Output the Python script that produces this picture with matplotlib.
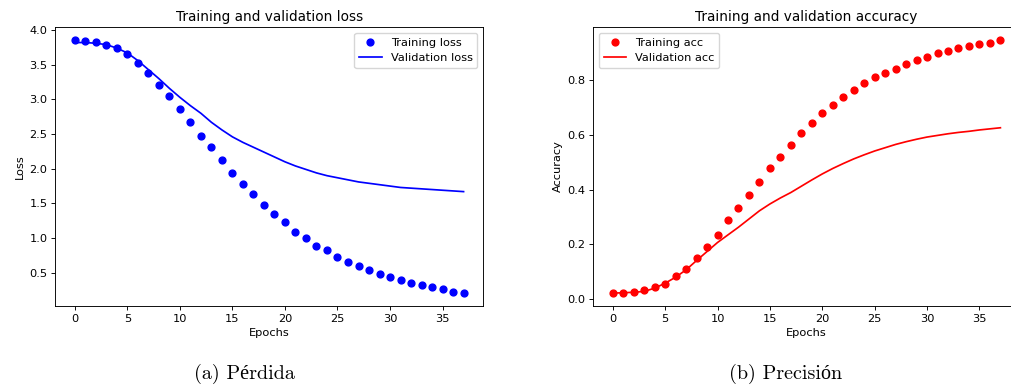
import numpy as np
import matplotlib
matplotlib.use('Agg')
import matplotlib.pyplot as plt

# %%
# values (38 epochs)
epochs = np.arange(38)

loss = [3.856, 3.837, 3.822, 3.78, 3.745, 3.654, 3.524, 3.375, 3.212, 3.043,
        2.86, 2.673, 2.476, 2.308, 2.125, 1.937, 1.774, 1.63, 1.48, 1.351,
        1.226, 1.091, 1.0, 0.889, 0.822, 0.721, 0.649, 0.591, 0.543, 0.481,
        0.433, 0.394, 0.356, 0.317, 0.288, 0.269, 0.226, 0.207]
val_loss = [3.82, 3.82, 3.81, 3.79, 3.74, 3.67, 3.56, 3.43, 3.30, 3.16,
            3.03, 2.91, 2.80, 2.67, 2.56, 2.46, 2.38, 2.31, 2.24, 2.17,
            2.10, 2.04, 1.99, 1.94, 1.90, 1.87, 1.84, 1.81, 1.79, 1.77,
            1.75, 1.73, 1.72, 1.71, 1.70, 1.69, 1.68, 1.67]

acc = [0.022, 0.022, 0.027, 0.032, 0.043, 0.055, 0.083, 0.111, 0.149, 0.189,
       0.236, 0.289, 0.335, 0.381, 0.428, 0.481, 0.521, 0.564, 0.607, 0.643,
       0.682, 0.709, 0.741, 0.765, 0.789, 0.811, 0.829, 0.843, 0.862, 0.876,
       0.887, 0.901, 0.909, 0.918, 0.927, 0.933, 0.938, 0.948]
val_acc = [0.022, 0.023, 0.025, 0.028, 0.040, 0.058, 0.080, 0.107, 0.141, 0.174,
           0.207, 0.235, 0.263, 0.293, 0.323, 0.348, 0.370, 0.390, 0.413, 0.436,
           0.458, 0.478, 0.496, 0.513, 0.528, 0.542, 0.554, 0.566, 0.576, 0.585,
           0.593, 0.599, 0.605, 0.610, 0.614, 0.619, 0.623, 0.627]

captions = ['(a) Pérdida', '(b) Precisión']

# %%
s = 0.82  # the notebook figure was shrunk into the document
plt.rcParams.update({'font.size': 10*s, 'axes.titlesize': 12*s,
                     'axes.linewidth': 0.8*s, 'xtick.major.width': 0.8*s,
                     'ytick.major.width': 0.8*s, 'xtick.major.size': 3.5*s,
                     'ytick.major.size': 3.5*s, 'lines.linewidth': 1.5*s,
                     'lines.markersize': 6*s, 'axes.titlepad': 6*s,
                     'xtick.major.pad': 3.5*s, 'ytick.major.pad': 3.5*s,
                     'axes.labelpad': 4*s, 'legend.fontsize': 10*s})

fig = plt.figure(figsize=(10.12, 3.86), dpi=100)
ax1 = fig.add_axes([0.0547, 0.208, 0.4226, 0.721])
ax2 = fig.add_axes([0.5863, 0.208, 0.4214, 0.721])

ax1.plot(epochs, loss, 'bo', label='Training loss')
ax1.plot(epochs, val_loss, 'b', label='Validation loss')
ax1.set(title='Training and validation loss', xlabel='Epochs', ylabel='Loss')
ax1.legend()

ax2.plot(epochs, acc, 'ro', label='Training acc')
ax2.plot(epochs, val_acc, 'r', label='Validation acc')
ax2.set(title='Training and validation accuracy', xlabel='Epochs', ylabel='Accuracy')
ax2.legend()

# subfigure captions from the document
fig.text(0.242, 0.018, captions[0], family=['cmr10', 'Liberation Serif'], fontsize=14.5, ha='center')
fig.text(0.776, 0.018, captions[1], family=['cmr10', 'Liberation Serif'], fontsize=14.5, ha='center')

fig.savefig('out.png', dpi=100)
